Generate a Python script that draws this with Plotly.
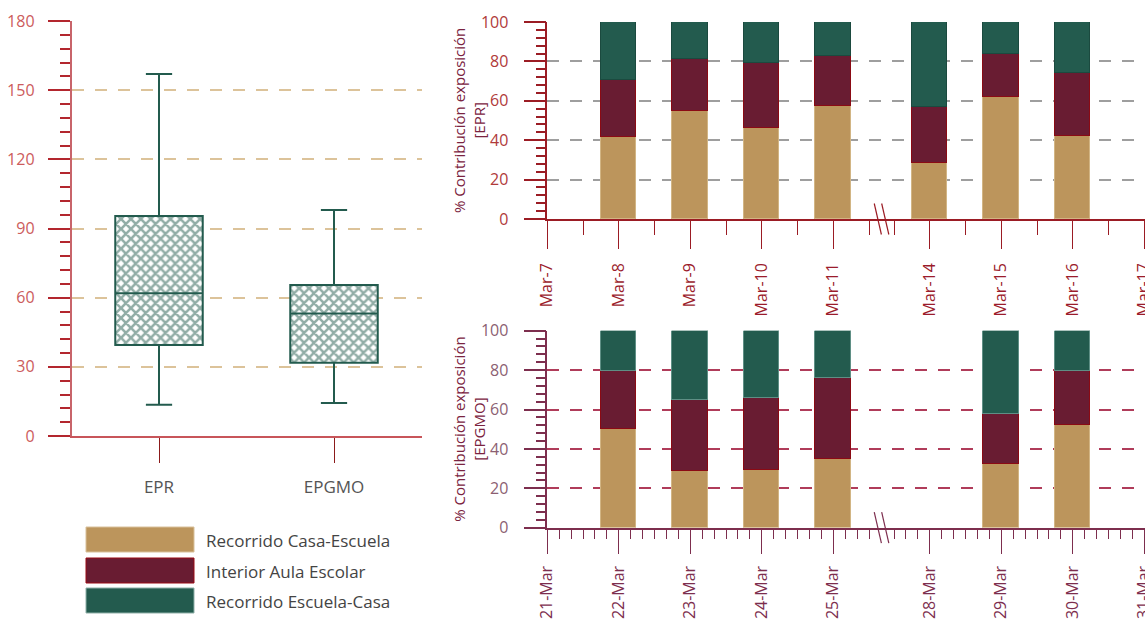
import numpy as np
import plotly.graph_objects as go

W, H = 1145, 619
FONT = "Open Sans, Lato, sans-serif"

GOLD = "#bc955c"
MAROON = "#691c32"
GREEN = "#235b4e"

# ---- Box summary per environment -------------------------------------------
groups = ["EPR", "EPGMO"]
box_lower = [13.6, 14.3]
box_q1 = [39.5, 31.8]
box_median = [61.9, 53.1]
box_q3 = [95.4, 65.5]
box_upper = [157.0, 98.0]

# ---- Daily % contribution, EPR ---------------------------------------------
epr_days = ["Mar-7", "Mar-8", "Mar-9", "Mar-10", "Mar-11",
            "Mar-14", "Mar-15", "Mar-16", "Mar-17"]
epr_casa_escuela = [None, 41.6, 54.9, 46.3, 57.4, 28.6, 61.9, 42.0, None]
epr_aula = [None, 28.8, 26.4, 32.9, 25.5, 28.1, 22.0, 32.1, None]
epr_escuela_casa = [None, 29.6, 18.7, 20.8, 17.1, 43.3, 16.1, 25.9, None]

# ---- Daily % contribution, EPGMO -------------------------------------------
epgmo_days = ["21-Mar", "22-Mar", "23-Mar", "24-Mar", "25-Mar",
              "28-Mar", "29-Mar", "30-Mar", "31-Mar"]
epgmo_casa_escuela = [None, 50.5, 28.9, 29.4, 35.0, None, 32.3, 52.1, None]
epgmo_aula = [None, 29.4, 35.9, 36.4, 41.0, None, 25.6, 27.6, None]
epgmo_escuela_casa = [None, 20.1, 35.2, 34.2, 24.0, None, 42.1, 20.3, None]

series_names = ["Recorrido Casa-Escuela", "Interior Aula Escolar",
                "Recorrido Escuela-Casa"]

# weekend removed from the day axis: days after it shift by a short gap
BREAK_AFTER = 5
BREAK_GAP = 0.35
idx = np.arange(len(epr_days))
pos = idx + BREAK_GAP * (idx >= BREAK_AFTER)
break_center = (BREAK_AFTER - 1) + 0.5 + BREAK_GAP / 2


def minor_vals(step):
    a = np.arange(0, BREAK_AFTER - 0.5 + 1e-9, step)
    b = np.arange(BREAK_AFTER - 0.5 + BREAK_GAP, pos[-1] + 0.02, step)
    vals = np.concatenate([a, b])
    return [float(v) for v in vals if min(abs(v - pos)) > 1e-6]


# pixel-based panel geometry
def px_x(p):
    return p / W


def px_y(p):
    return 1 - p / H


left_dom_x = [px_x(71.5), px_x(421.5)]
left_dom_y = [px_y(436), px_y(21)]
right_dom_x = [px_x(547.3), 1.0]
top_dom_y = [px_y(219), px_y(22)]
bot_dom_y = [px_y(527.7), px_y(330.7)]

fig = go.Figure()

# hatched body of the boxes
fig.add_trace(go.Bar(
    x=groups, y=[b - a for a, b in zip(box_q1, box_q3)], base=box_q1,
    width=0.5, xaxis="x", yaxis="y", showlegend=False,
    marker=dict(color="white", line=dict(width=0),
                pattern=dict(shape="x", fgcolor=GREEN, bgcolor="white",
                             size=7, solidity=0.6)),
    hoverinfo="skip",
))
fig.add_trace(go.Box(
    x=groups, q1=box_q1, median=box_median, q3=box_q3,
    lowerfence=box_lower, upperfence=box_upper,
    width=0.5, whiskerwidth=0.3, boxpoints=False,
    line=dict(color=GREEN, width=2), fillcolor="rgba(0,0,0,0)",
    xaxis="x", yaxis="y", showlegend=False,
))

colors = [GOLD, MAROON, GREEN]
edge_top = ["#d2b584", "#8b0a14", "#1b4a3f"]
edge_bot = ["#d2b584", "#8b0a14", "#5f8f85"]
for name, col, ec, vals in zip(series_names, colors, edge_top,
                               [epr_casa_escuela, epr_aula, epr_escuela_casa]):
    fig.add_trace(go.Bar(x=pos, y=vals, name=name, width=0.5,
                         marker=dict(color=col, line=dict(color=ec, width=1)),
                         xaxis="x2", yaxis="y2", showlegend=False))
for name, col, ec, vals in zip(series_names, colors, edge_bot,
                               [epgmo_casa_escuela, epgmo_aula, epgmo_escuela_casa]):
    fig.add_trace(go.Bar(x=pos, y=vals, name=name, width=0.5,
                         marker=dict(color=col, line=dict(color=ec, width=1)),
                         xaxis="x3", yaxis="y3", showlegend=False))

# ---- axes ------------------------------------------------------------------
fig.update_layout(
    xaxis=dict(domain=left_dom_x, anchor="y", type="category", range=[-0.5, 1.5],
               automargin=False,
               showline=True, linecolor="#c8555a", linewidth=2,
               ticks="outside", ticklen=25, tickcolor="#8b1a1a", tickwidth=1,
               tickfont=dict(family=FONT, size=17, color="#555555"),
               ticklabelstandoff=10, showgrid=False, zeroline=False),
    yaxis=dict(domain=left_dom_y, anchor="x", range=[0, 180],
               automargin=False,
               tickvals=[0, 30, 60, 90, 120, 150, 180],
               showline=True, linecolor="#c8646a", linewidth=1.5,
               ticks="outside", ticklen=22, tickcolor="#b3262e", tickwidth=1.5,
               tickfont=dict(family=FONT, size=16, color="#cc5c5c"),
               ticklabelstandoff=10,
               showgrid=True, gridcolor="#dcc39a", gridwidth=1.5,
               griddash="12px,11px", zeroline=False,
               minor=dict(dtick=6, tick0=0, ticks="outside", ticklen=10,
                          tickcolor="#b3262e", tickwidth=1.5, showgrid=False)),
    xaxis2=dict(domain=right_dom_x, anchor="y2", range=[0, 8.36],
                automargin=False, ticklabeloverflow="allow",
                tickmode="array", tickvals=[float(p) for p in pos],
                ticktext=epr_days, tickangle=-90,
                showline=True, linecolor="#9b1c24", linewidth=1.5,
                ticks="outside", ticklen=28, tickcolor="#9b1c24", tickwidth=1,
                tickfont=dict(family=FONT, size=16, color="#9b1c2c"),
                ticklabelstandoff=8, showgrid=False, zeroline=False,
                minor=dict(tickmode="array", tickvals=minor_vals(0.5),
                           ticks="outside", ticklen=14,
                           tickcolor="#9b1c24", tickwidth=1, showgrid=False)),
    yaxis2=dict(domain=top_dom_y, anchor="x2", range=[0, 100],
                automargin=False,
                tickvals=[0, 20, 40, 60, 80, 100],
                showline=True, linecolor="#9b1c24", linewidth=1.5,
                ticks="outside", ticklen=22, tickcolor="#9b1c24", tickwidth=1.5,
                tickfont=dict(family=FONT, size=16, color="#b03a3a"),
                ticklabelstandoff=12,
                showgrid=True, gridcolor="#9e9e9e", gridwidth=1.5,
                griddash="12px,11px", zeroline=False,
                minor=dict(dtick=4, tick0=0, ticks="outside", ticklen=10,
                           tickcolor="#9b1c24", tickwidth=1.5, showgrid=False)),
    xaxis3=dict(domain=right_dom_x, anchor="y3", range=[0, 8.36],
                automargin=False, ticklabeloverflow="allow",
                tickmode="array", tickvals=[float(p) for p in pos],
                ticktext=epgmo_days, tickangle=-90,
                showline=True, linecolor="#7d2e4e", linewidth=1.5,
                ticks="outside", ticklen=25, tickcolor="#7d2e4e", tickwidth=1,
                tickfont=dict(family=FONT, size=16, color="#7d2e4e"),
                ticklabelstandoff=5, showgrid=False, zeroline=False,
                minor=dict(tickmode="array", tickvals=minor_vals(1 / 6),
                           ticks="outside", ticklen=10,
                           tickcolor="#7d2e4e", tickwidth=1, showgrid=False)),
    yaxis3=dict(domain=bot_dom_y, anchor="x3", range=[0, 100],
                automargin=False,
                tickvals=[0, 20, 40, 60, 80, 100],
                showline=True, linecolor="#7d2e4e", linewidth=1.5,
                ticks="outside", ticklen=22, tickcolor="#7d2e4e", tickwidth=1.5,
                tickfont=dict(family=FONT, size=16, color="#8c5f72"),
                ticklabelstandoff=12,
                showgrid=True, gridcolor="#b03c5a", gridwidth=1.5,
                griddash="12px,11px", zeroline=False,
                minor=dict(dtick=4, tick0=0, ticks="outside", ticklen=10,
                           tickcolor="#7d2e4e", tickwidth=1.5, showgrid=False)),
)

shapes = []
annotations = []

# axis break marks
for dom_y, col in [(top_dom_y, "#9b1c24"), (bot_dom_y, "#7d2e4e")]:
    y_axis = dom_y[0]
    half = 15.5 / H
    dx = 0.1
    for off in (-0.052, 0.052):
        shapes.append(dict(type="line", xref="x2", yref="paper",
                           x0=break_center + off - dx / 2, y0=y_axis + half,
                           x1=break_center + off + dx / 2, y1=y_axis - half,
                           line=dict(color=col, width=1.2)))

# y-axis titles
for dom_y, tag, col in [(top_dom_y, "[EPR]", "#7a2340"),
                        (bot_dom_y, "[EPGMO]", "#7a2340")]:
    annotations.append(dict(
        text="% Contribución exposición<br>" + tag, textangle=-90,
        xref="paper", yref="paper", x=px_x(469.5), y=(dom_y[0] + dom_y[1]) / 2,
        xanchor="center", yanchor="middle", showarrow=False,
        font=dict(family=FONT, size=15, color=col)))

# legend
swatch_top = [527, 558, 588]
swatch_line = ["#d8c09a", "#9b0a14", "#8fb0a8"]
for name, col, ln, top in zip(series_names, colors, swatch_line, swatch_top):
    shapes.append(dict(type="rect", xref="paper", yref="paper",
                       x0=px_x(86), x1=px_x(194), y0=px_y(top + 25), y1=px_y(top),
                       fillcolor=col, line=dict(color=ln, width=1)))
    annotations.append(dict(text=name, xref="paper", yref="paper",
                            x=px_x(204), y=px_y(top + 13), xanchor="left",
                            yanchor="middle", showarrow=False,
                            font=dict(family=FONT, size=17, color="#444444")))

fig.update_layout(
    shapes=shapes, annotations=annotations,
    width=W, height=H, margin=dict(l=0, r=0, t=0, b=0, autoexpand=False),
    paper_bgcolor="white", plot_bgcolor="white",
    barmode="stack", bargap=0, showlegend=False,
    font=dict(family=FONT),
)

fig.write_html("out.html")
